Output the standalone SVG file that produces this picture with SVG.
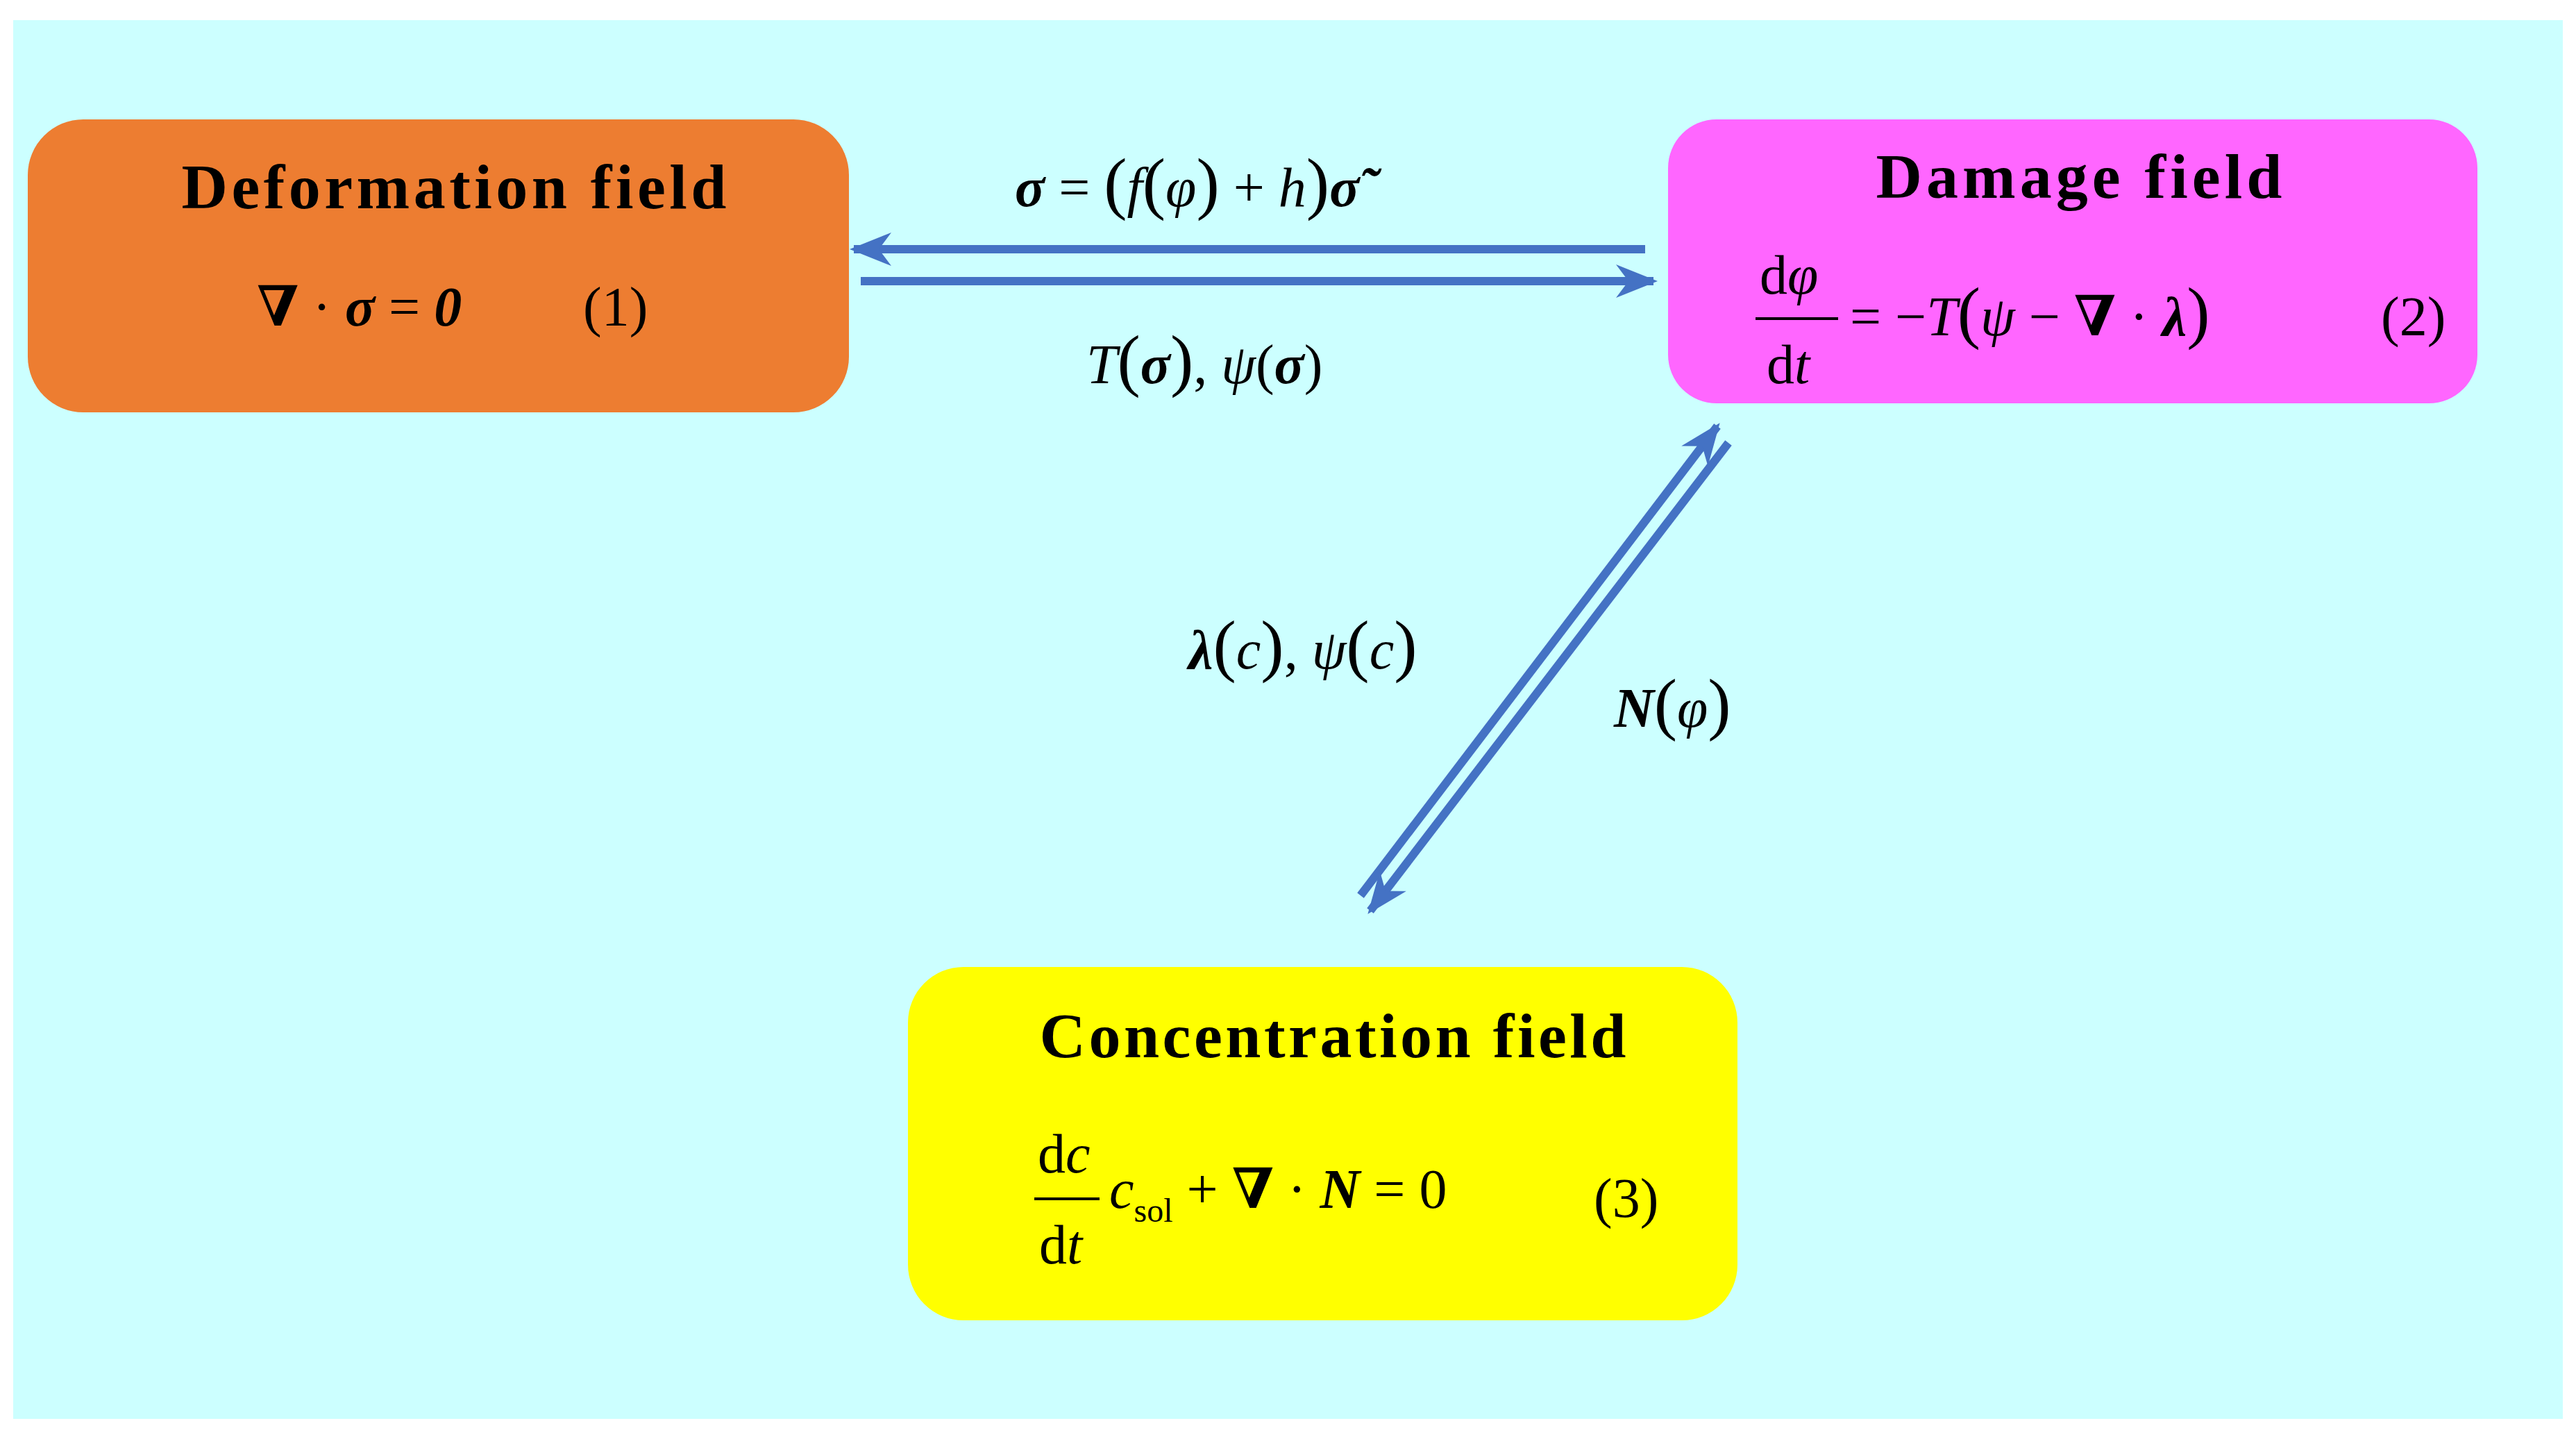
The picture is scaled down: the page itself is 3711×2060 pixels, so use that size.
<svg xmlns="http://www.w3.org/2000/svg" width="3711" height="2060" viewBox="0 0 3711 2060">
<style>
text{font-family:"Liberation Serif","DejaVu Serif",serif;fill:#000}
.t{font-size:92px;font-weight:bold;text-anchor:middle}
.m{font-size:80px}
.i{font-style:italic}
.b{font-weight:bold}
.p{font-size:100px}
.c{stroke:#4472C4;stroke-width:12;fill:none}
</style>
<defs>
<marker id="ah" viewBox="0 0 10 10" refX="9" refY="5" markerWidth="5" markerHeight="5" orient="auto" markerUnits="strokeWidth">
<path d="M0,1 L10,5 L0,9 L3,5 Z" fill="#4472C4"/>
</marker>
</defs>
<rect x="19" y="29" width="3673" height="2015" fill="#CCFFFF"/>
<g id="deformation">
<rect x="40" y="172" width="1183" height="422" rx="80" fill="#ED7D31"/>
<text class="t" x="654" y="300" textLength="785">Deformation field</text>
<text class="m" x="370" y="469"><tspan class="b">∇</tspan> · <tspan class="b i">σ</tspan> = <tspan class="b i">0</tspan></text>
<text class="m" x="840" y="469">(1)</text>
</g>
<g id="damage">
<rect x="2403" y="172" width="1166" height="409" rx="70" fill="#FF66FF"/>
<text class="t" x="2995" y="285" textLength="585">Damage field</text>
<text class="m" x="2535" y="423">d<tspan class="i">φ</tspan></text>
<line x1="2529" y1="459" x2="2648" y2="459" stroke="#000" stroke-width="4"/>
<text class="m" x="2545" y="552">d<tspan class="i">t</tspan></text>
<text class="m" x="2665" y="483">= −<tspan class="i">T</tspan><tspan class="p">(</tspan><tspan class="i">ψ</tspan> − <tspan class="b">∇</tspan> · <tspan class="b i">λ</tspan><tspan class="p">)</tspan></text>
<text class="m" x="3430" y="483">(2)</text>
</g>
<g id="concentration">
<rect x="1308" y="1393" width="1195" height="509" rx="80" fill="#FFFF00"/>
<text class="t" x="1920" y="1523" textLength="845">Concentration field</text>
<text class="m" x="1495" y="1689">d<tspan class="i">c</tspan></text>
<line x1="1490" y1="1727" x2="1584" y2="1727" stroke="#000" stroke-width="4"/>
<text class="m" x="1497" y="1820">d<tspan class="i">t</tspan></text>
<text class="m" x="1598" y="1740"><tspan class="i">c</tspan><tspan font-size="48" dy="20">sol</tspan><tspan dy="-20"> + </tspan><tspan class="b">∇</tspan> · <tspan class="b i">N</tspan> = 0</text>
<text class="m" x="2296" y="1753">(3)</text>
</g>
<g id="connectors">
<line class="c" x1="2370" y1="359" x2="1230" y2="359" marker-end="url(#ah)"/>
<line class="c" x1="1240" y1="405" x2="2382" y2="405" marker-end="url(#ah)"/>
<line class="c" x1="1960" y1="1290" x2="2474" y2="614" marker-end="url(#ah)"/>
<line class="c" x1="2490" y1="638" x2="1974" y2="1312" marker-end="url(#ah)"/>
</g>
<g id="labels">
<text class="m" x="1462" y="297"><tspan class="b i">σ</tspan> = <tspan class="p">(</tspan><tspan class="i">f</tspan><tspan class="p">(</tspan><tspan class="i">φ</tspan><tspan class="p">)</tspan> + <tspan class="i">h</tspan><tspan class="p">)</tspan><tspan class="b i">σ̃</tspan></text>
<text class="m" x="1565" y="552"><tspan class="i">T</tspan><tspan class="p">(</tspan><tspan class="b i">σ</tspan><tspan class="p">)</tspan>, <tspan class="i">ψ</tspan>(<tspan class="b i">σ</tspan>)</text>
<text class="m" x="1712" y="963"><tspan class="b i">λ</tspan><tspan class="p">(</tspan><tspan class="i">c</tspan><tspan class="p">)</tspan>, <tspan class="i">ψ</tspan><tspan class="p">(</tspan><tspan class="i">c</tspan><tspan class="p">)</tspan></text>
<text class="m" x="2325" y="1047"><tspan class="b i">N</tspan><tspan class="p">(</tspan><tspan class="i">φ</tspan><tspan class="p">)</tspan></text>
</g>
</svg>
